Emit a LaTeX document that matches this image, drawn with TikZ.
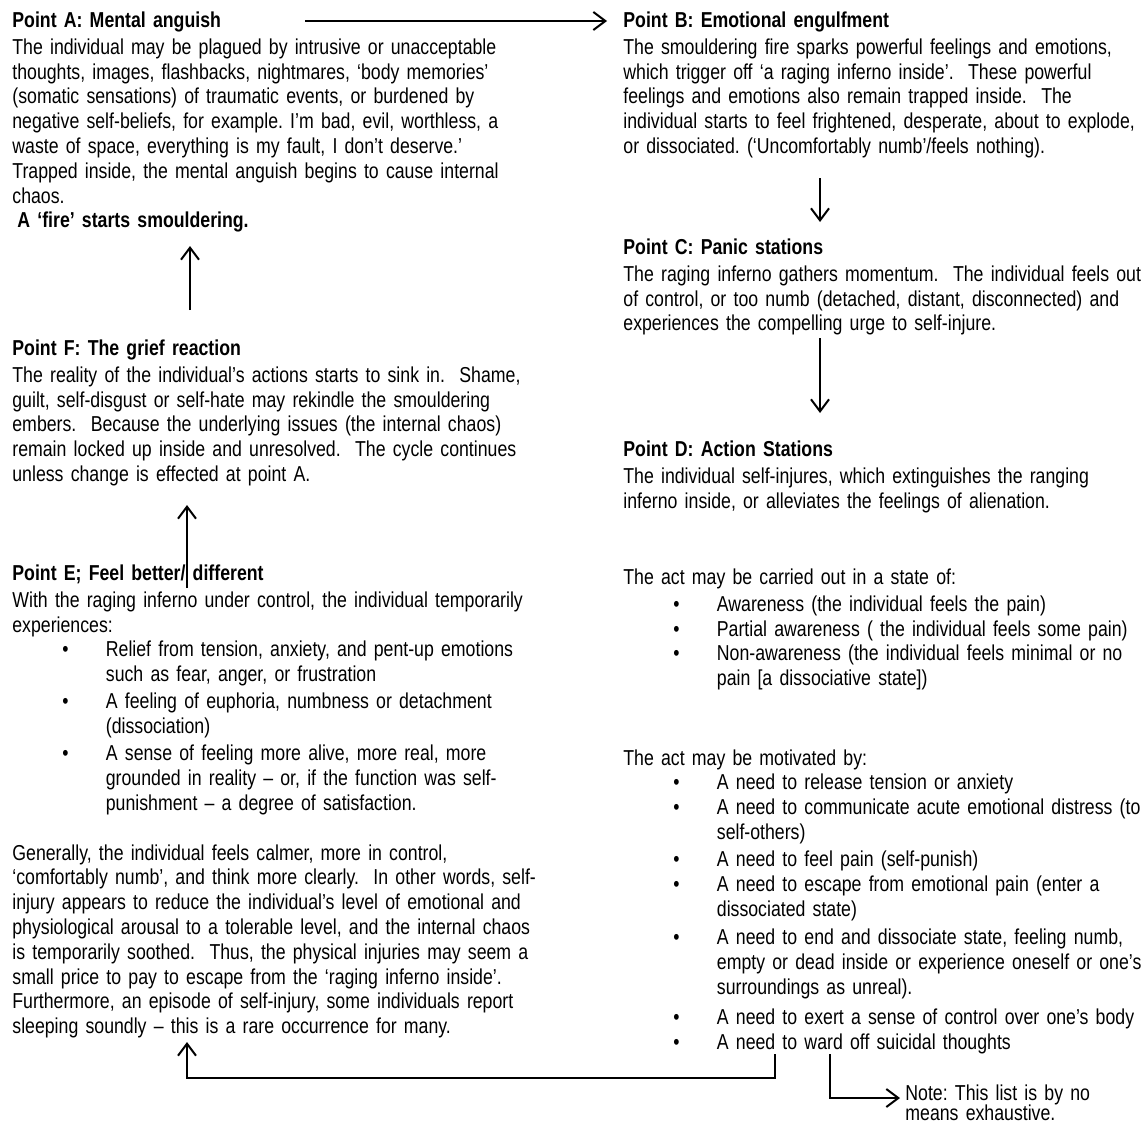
\documentclass[tikz,border=0pt]{standalone}
\usepackage{fontspec}
\setmainfont[FakeStretch=0.82]{Liberation Sans}
\usetikzlibrary{arrows.meta}
\frenchspacing
\newcommand{\itm}{\hspace*{25pt}\makebox[21.75pt][l]{•}}
\newcommand{\cnt}{\hspace*{46.75pt}}

\begin{document}
\begin{tikzpicture}[x=0.5pt, y=-0.5pt,
    txt/.style={anchor=base west, inner sep=0pt, text width=300pt, align=left,
        font=\fontsize{10.8}{12.4}\selectfont},
    arr/.style={line width=1pt, -{Straight Barb[length=6pt, width=9pt, line width=1pt]}}]
    \useasboundingbox[fill=white] (0, 0) rectangle (1147, 1125);

    % left column
    \node[txt] (ptA) at (12, 27) {\textbf{Point A: Mental anguish}\\[1.2pt]
        The individual may be plagued by intrusive or unacceptable\\
        thoughts, images, flashbacks, nightmares, ‘body memories’\\
        (somatic sensations) of traumatic events, or burdened by\\
        negative self-beliefs, for example. I’m bad, evil, worthless, a\\
        waste of space, everything is my fault, I don’t deserve.’\\
        Trapped inside, the mental anguish begins to cause internal\\
        chaos.\\
        \hspace*{2.5pt}\textbf{A ‘fire’ starts smouldering.}};
    \node[txt] (ptF) at (12, 355) {\textbf{Point F: The grief reaction}\\[1.2pt]
        The reality of the individual’s actions starts to sink in.~ Shame,\\
        guilt, self-disgust or self-hate may rekindle the smouldering\\
        embers.~ Because the underlying issues (the internal chaos)\\
        remain locked up inside and unresolved.~ The cycle continues\\
        unless change is effected at point A.};
    \node[txt] (ptE) at (12, 580) {\textbf{Point E; Feel better/ different}\\[1.2pt]
        With the raging inferno under control, the individual temporarily\\
        experiences:\\
        \itm Relief from tension, anxiety, and pent-up emotions\\
        \cnt such as fear, anger, or frustration\\[1.2pt]
        \itm A feeling of euphoria, numbness or detachment\\
        \cnt (dissociation)\\[1.2pt]
        \itm A sense of feeling more alive, more real, more\\
        \cnt grounded in reality – or, if the function was self-\\
        \cnt punishment – a degree of satisfaction.};
    \node[txt] (calm) at (12, 860) {Generally, the individual feels calmer, more in control,\\
        ‘comfortably numb’, and think more clearly.~ In other words, self-\\
        injury appears to reduce the individual’s level of emotional and\\
        physiological arousal to a tolerable level, and the internal chaos\\
        is temporarily soothed.~ Thus, the physical injuries may seem a\\
        small price to pay to escape from the ‘raging inferno inside’.\\
        Furthermore, an episode of self-injury, some individuals report\\
        sleeping soundly – this is a rare occurrence for many.};

    % right column
    \node[txt] (ptB) at (623, 27) {\textbf{Point B: Emotional engulfment}\\[1.2pt]
        The smouldering fire sparks powerful feelings and emotions,\\
        which trigger off ‘a raging inferno inside’.~ These powerful\\
        feelings and emotions also remain trapped inside.~ The\\
        individual starts to feel frightened, desperate, about to explode,\\
        or dissociated. (‘Uncomfortably numb’/feels nothing).};
    \node[txt] (ptC) at (623, 254) {\textbf{Point C: Panic stations}\\[1.2pt]
        The raging inferno gathers momentum.~ The individual feels out\\
        of control, or too numb (detached, distant, disconnected) and\\
        experiences the compelling urge to self-injure.};
    \node[txt] (ptD) at (623, 456) {\textbf{Point D: Action Stations}\\[1.2pt]
        The individual self-injures, which extinguishes the ranging\\
        inferno inside, or alleviates the feelings of alienation.};
    \node[txt] (state) at (623, 584) {The act may be carried out in a state of:\\[1.2pt]
        \itm Awareness (the individual feels the pain)\\
        \itm Partial awareness ( the individual feels some pain)\\
        \itm Non-awareness (the individual feels minimal or no\\
        \cnt pain [a dissociative state])};
    \node[txt] (motive) at (623, 765) {The act may be motivated by:\\
        \itm A need to release tension or anxiety\\
        \itm A need to communicate acute emotional distress (to\\
        \cnt self-others)\\[1.1pt]
        \itm A need to feel pain (self-punish)\\
        \itm A need to escape from emotional pain (enter a\\
        \cnt dissociated state)\\[2pt]
        \itm A need to end and dissociate state, feeling numb,\\
        \cnt empty or dead inside or experience oneself or one’s\\
        \cnt surroundings as unreal).\\[2.5pt]
        \itm A need to exert a sense of control over one’s body\\
        \itm A need to ward off suicidal thoughts};
    \node[txt, font=\fontsize{10.8}{10.2}\selectfont] (note) at (905, 1100) {Note: This list is by no\\
        means exhaustive.};

    % arrow ends
    \coordinate (aOut) at (305, 21);
    \coordinate (bIn) at (607, 21);
    \coordinate (bOut) at (820, 178);
    \coordinate (cIn) at (820, 222);
    \coordinate (cOut) at (820, 338);
    \coordinate (dIn) at (820, 413);
    \coordinate (eOut) at (187, 588);
    \coordinate (fIn) at (187, 505);
    \coordinate (fOut) at (190, 310);
    \coordinate (aIn) at (190, 246);
    \coordinate (dOut) at (775, 1054);
    \coordinate (eIn) at (187, 1042);
    \coordinate (listOut) at (830, 1054);
    \coordinate (noteIn) at (900, 1098);

    \draw[arr, line width=1.2pt] (aOut) -- (bIn);
    \draw[arr] (bOut) -- (cIn);
    \draw[arr] (cOut) -- (dIn);
    \draw[arr] (eOut) -- (fIn);
    \draw[arr] (fOut) -- (aIn);
    \draw[arr] (dOut) |- (187, 1078) -- (eIn);
    \draw[arr] (listOut) |- (noteIn);
\end{tikzpicture}
\end{document}
